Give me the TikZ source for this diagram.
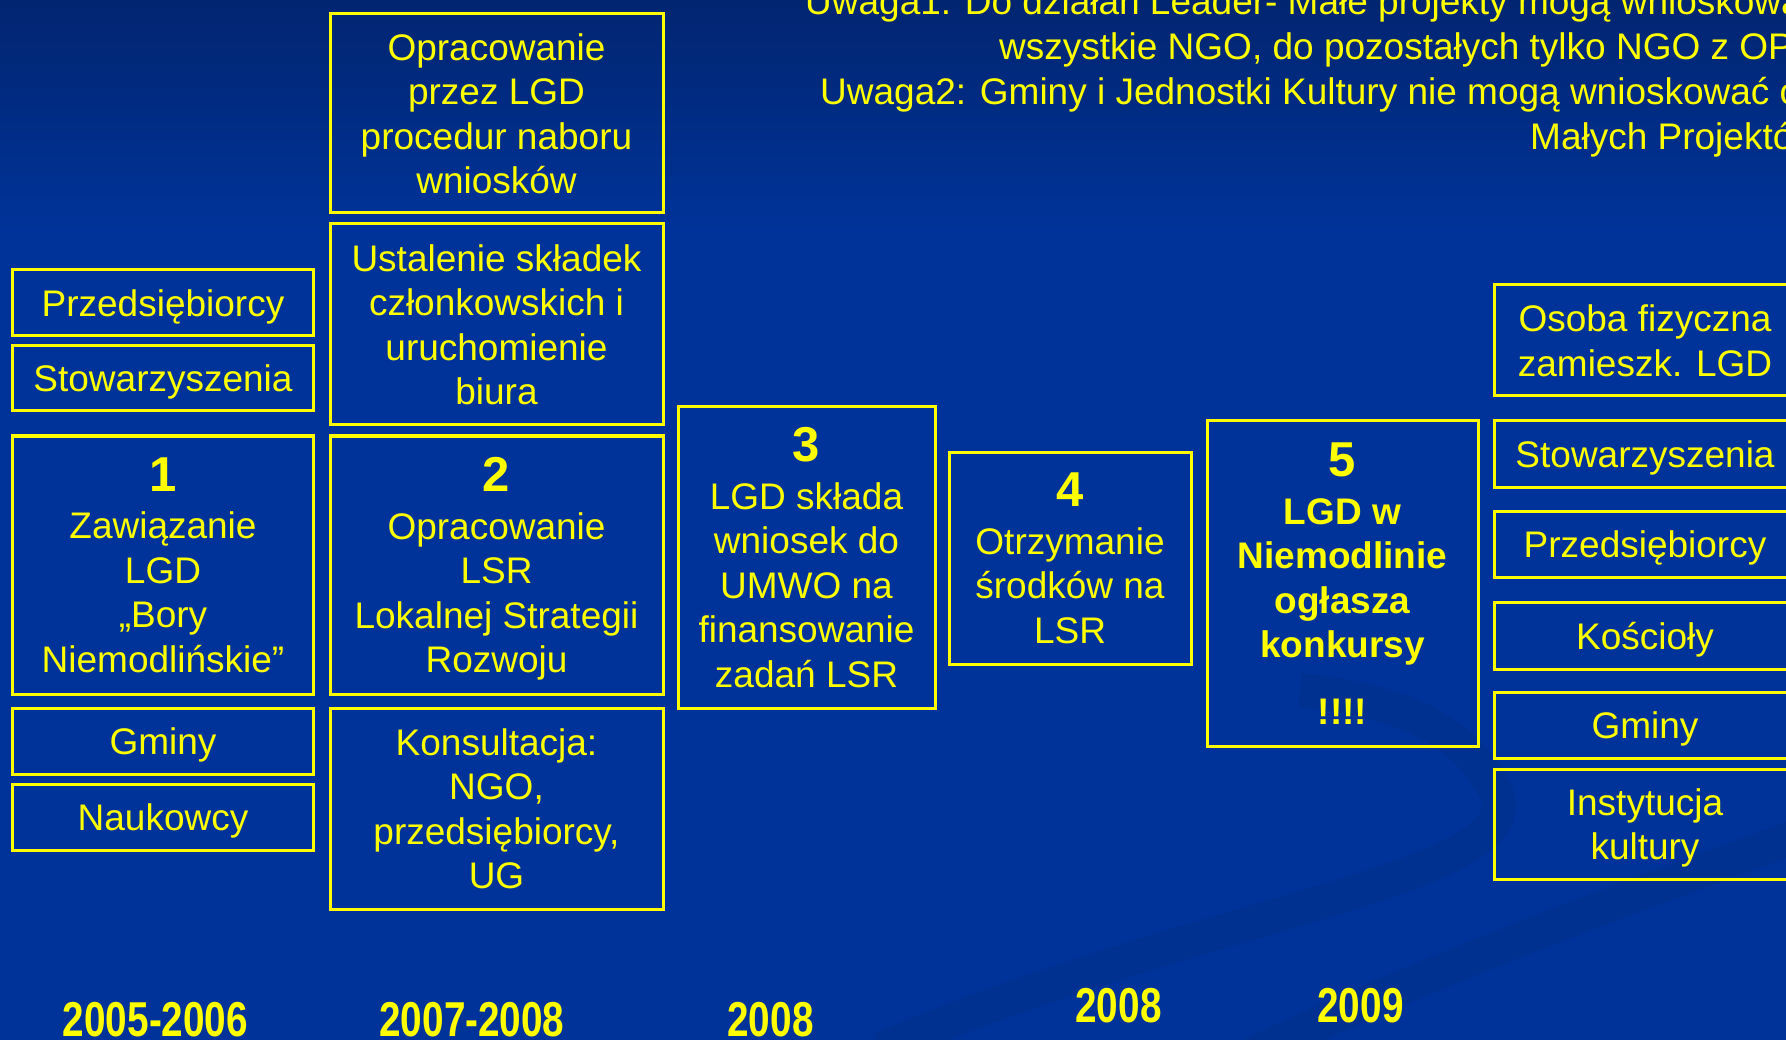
\documentclass[tikz,border=0pt]{standalone}
\usepackage{fontspec}
\setmainfont{Liberation Sans}
\newfontfamily\yearfont[FakeStretch=0.79]{Liberation Sans}
\definecolor{lgdyellow}{RGB}{255,255,0}
\definecolor{bgblue}{RGB}{0,51,153}
\definecolor{bgtop}{RGB}{2,37,112}
\tikzset{
  frame/.style={draw=lgdyellow, line width=3pt, text=lgdyellow, align=center, inner sep=0pt, text depth=0pt, font=\fontsize{37}{44.5}\selectfont},
  note/.style={text=lgdyellow, anchor=base west, inner sep=0pt, font=\fontsize{37}{44.5}\selectfont},
  year/.style={text=lgdyellow, anchor=base, inner sep=0pt, font=\fontsize{49}{50}\yearfont\bfseries},
  swoosh/.style={line width=34pt, draw=black, opacity=0.06},
}
\newcommand{\stepno}[1]{{\fontsize{49}{50}\selectfont\bfseries #1}}

\begin{document}
\begin{tikzpicture}[x=1pt,y=-1pt]
		%%%%% START %%%%%
		\useasboundingbox (0,0) rectangle (1786,1040);
		\fill[bgblue] (0,0) rectangle (1786,1040);
		\shade[top color=bgtop, bottom color=bgblue] (0,0) rectangle (1786,230);
		\draw[swoosh] (880,1050) .. controls (1200,910) and (1540,880) .. (1495,790) .. controls (1465,730) and (1400,700) .. (1300,690);
		\draw[swoosh] (1240,1060) .. controls (1450,960) and (1650,890) .. (1800,835);
		
		% notes
		\node[note] (note1) at (805,15) {Uwaga1: Do działań Leader- Małe projekty mogą wnioskować};
		\node[note] (note2) at (999,60) {wszystkie NGO, do pozostałych tylko NGO z OPP};
		\node[note] (note3) at (820,105) {Uwaga2: Gminy i Jednostki Kultury nie mogą wnioskować o};
		\node[note] (note4) at (1530,150) {Małych Projektów};
		
		% column 1
		\node[frame, minimum width=301, minimum height=66] (pre1) at (163,303) {Przedsiębiorcy};
		\node[frame, minimum width=301, minimum height=65] (sto1) at (163,378.5) {Stowarzyszenia};
		\node[frame, minimum width=301, minimum height=258] (step1) at (163,565) {\stepno{1}\\[3pt] Zawiązanie\\ LGD\\ „Bory\\ Niemodlińskie”};
		\node[frame, minimum width=301, minimum height=66] (gmi1) at (163,741) {Gminy};
		\node[frame, minimum width=301, minimum height=66] (nau1) at (163,817) {Naukowcy};
		
		% column 2
		\node[frame, minimum width=333, minimum height=199] (proc) at (496.5,113.5) {Opracowanie\\ przez LGD\\ procedur naboru\\ wniosków};
		\node[frame, minimum width=333, minimum height=201] (skl) at (496.5,324.5) {Ustalenie składek\\ członkowskich i\\ uruchomienie\\ biura};
		\node[frame, minimum width=333, minimum height=258] (step2) at (496.5,565) {\stepno{2}\\[3pt] Opracowanie\\ LSR\\ Lokalnej Strategii\\ Rozwoju};
		\node[frame, minimum width=333, minimum height=201] (kons) at (496.5,808.5) {Konsultacja:\\ NGO,\\ przedsiębiorcy,\\ UG};
		
		% steps 3-5
		\node[frame, minimum width=257, minimum height=301] (step3) at (806.5,557.5) {\stepno{3}\\[3pt] LGD składa\\ wniosek do\\ UMWO na\\ finansowanie\\ zadań LSR};
		\node[frame, minimum width=242, minimum height=212] (step4) at (1070,558) {\stepno{4}\\[3pt] Otrzymanie\\ środków na\\ LSR};
		\node[frame, minimum width=271, minimum height=325, font=\fontsize{37}{44.5}\selectfont\bfseries] (step5) at (1342.5,583.5) {\stepno{5}\\[3pt] LGD w\\ Niemodlinie\\ ogłasza\\ konkursy\\[22pt] !!!!};
		
		% column right
		\node[frame, minimum width=302, minimum height=111] (osoba) at (1645,340.5) {Osoba fizyczna\\ zamieszk. LGD};
		\node[frame, minimum width=302, minimum height=66] (sto2) at (1645,454) {Stowarzyszenia};
		\node[frame, minimum width=302, minimum height=66] (pre2) at (1645,544) {Przedsiębiorcy};
		\node[frame, minimum width=302, minimum height=67] (kos) at (1645,635.5) {Kościoły};
		\node[frame, minimum width=302, minimum height=66] (gmi2) at (1645,725) {Gminy};
		\node[frame, minimum width=302, minimum height=110] (inst) at (1645,824) {Instytucja\\ kultury};
		
		% years
		\node[year] (yr1) at (155.5,1036) {2005-2006};
		\node[year] (yr2) at (472,1036) {2007-2008};
		\node[year] (yr3) at (770.5,1036) {2008};
		\node[year] (yr4) at (1118.5,1022) {2008};
		\node[year] (yr5) at (1360.5,1022) {2009};
		%%%%% END %%%%%
\end{tikzpicture}
\end{document}
